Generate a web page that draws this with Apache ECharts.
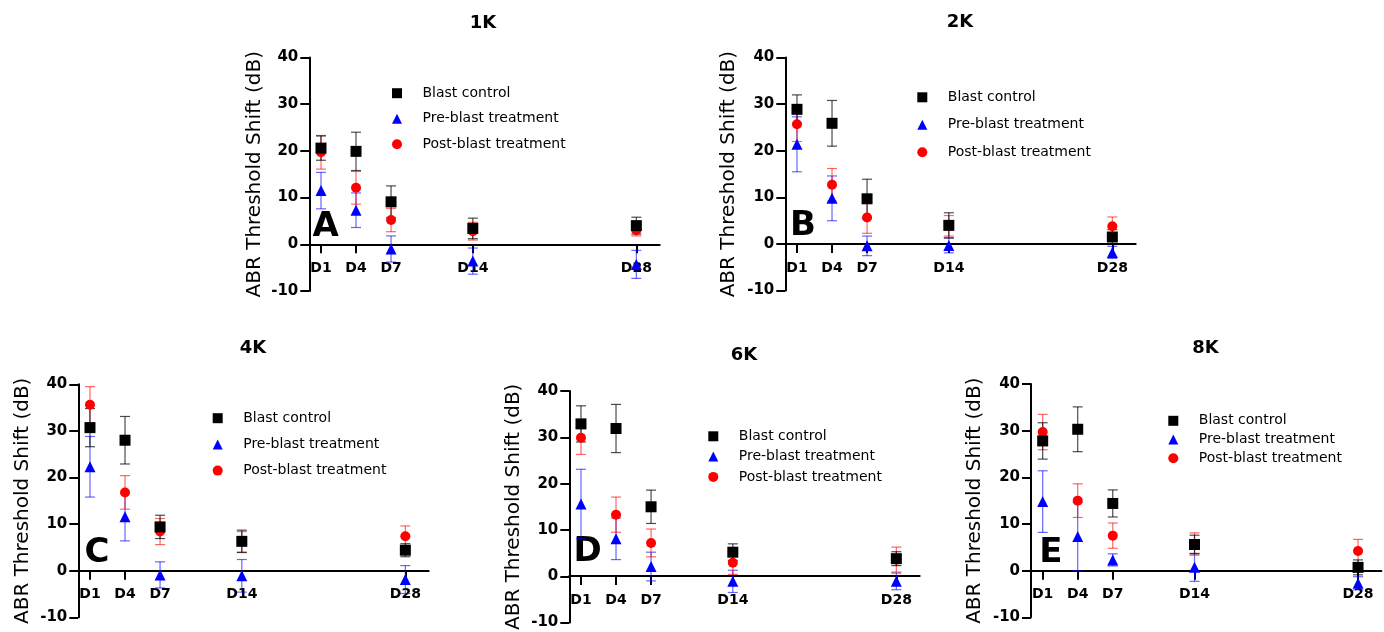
<!DOCTYPE html>
<html>
<head>
<meta charset="utf-8">
<script src="https://cdn.jsdelivr.net/npm/echarts@6/dist/echarts.min.js"></script>
<style>
    html, body { margin: 0; padding: 0; background: #fff; }
    #chart { width: 1384px; height: 632px; }
</style>
</head>
<body>
<div id="chart"></div>
<script>
    // days after blast (x positions)
    const days = [1, 4, 7, 14, 28];
    const panels = ['1K', '2K', '4K', '6K', '8K'];
    const letters = ['A', 'B', 'C', 'D', 'E'];
    const groups = ['Blast control', 'Pre-blast treatment', 'Post-blast treatment'];

    // 1K
    const blast1K = [20.6, 19.9, 9.1, 3.4, 4.0];
    const blast1KErr = [2.6, 4.1, 3.4, 2.2, 1.8];
    const pre1K = [11.5, 7.3, -1.0, -3.6, -4.3];
    const pre1KErr = [3.9, 3.7, 2.8, 2.8, 3.0];
    const post1K = [19.7, 12.1, 5.2, 2.8, 3.0];
    const post1KErr = [3.6, 3.5, 2.5, 1.9, 1.2];

    // 2K
    const blast2K = [28.9, 25.9, 9.7, 4.0, 1.5];
    const blast2KErr = [3.1, 4.9, 4.2, 2.7, 1.6];
    const pre2K = [21.4, 9.8, -0.4, -0.3, -1.8];
    const pre2KErr = [5.9, 4.8, 2.1, 1.6, 1.3];
    const post2K = [25.7, 12.7, 5.7, 3.9, 3.8];
    const post2KErr = [3.7, 3.5, 3.4, 2.2, 2.0];

    // 4K
    const blast4K = [30.7, 28.0, 9.4, 6.3, 4.4];
    const blast4KErr = [4.1, 5.1, 2.5, 2.4, 1.4];
    const pre4K = [22.3, 11.6, -0.9, -1.1, -1.9];
    const pre4KErr = [6.5, 5.2, 2.8, 3.5, 3.0];
    const post4K = [35.6, 16.8, 8.4, 6.2, 7.4];
    const post4KErr = [3.9, 3.6, 2.8, 2.2, 2.2];

    // 6K
    const blast6K = [32.9, 31.9, 15.0, 5.2, 3.8];
    const blast6KErr = [3.9, 5.2, 3.6, 1.8, 1.5];
    const pre6K = [15.6, 8.1, 2.1, -1.1, -1.1];
    const pre6KErr = [7.5, 4.5, 3.1, 2.4, 1.8];
    const post6K = [29.9, 13.3, 7.2, 2.9, 3.6];
    const post6KErr = [3.6, 3.8, 3.0, 2.5, 2.7];

    // 8K
    const blast8K = [27.8, 30.3, 14.4, 5.6, 0.7];
    const blast8KErr = [3.9, 4.8, 2.9, 2.0, 1.6];
    const pre8K = [14.8, 7.3, 2.3, 0.7, -2.7];
    const pre8KErr = [6.6, 7.3, 1.3, 3.0, 1.4];
    const post8K = [29.7, 15.0, 7.5, 5.7, 4.2];
    const post8KErr = [3.8, 3.6, 2.7, 2.4, 2.5];

    const means = [
        [blast1K, pre1K, post1K],
        [blast2K, pre2K, post2K],
        [blast4K, pre4K, post4K],
        [blast6K, pre6K, post6K],
        [blast8K, pre8K, post8K]
    ];
    const errs = [
        [blast1KErr, pre1KErr, post1KErr],
        [blast2KErr, pre2KErr, post2KErr],
        [blast4KErr, pre4KErr, post4KErr],
        [blast6KErr, pre6KErr, post6KErr],
        [blast8KErr, pre8KErr, post8KErr]
    ];

    // layout of the five panels (pixels)
    const grids = [
        {left: 309.3, top: 57.5, width: 350.4, height: 233.5},
        {left: 785.3, top: 57.6, width: 350.4, height: 233},
        {left: 78.3, top: 384.3, width: 350.4, height: 233},
        {left: 569.3, top: 391, width: 350.4, height: 233.3},
        {left: 1031, top: 384, width: 350.4, height: 233.3}
    ];
    const nameGaps = [45, 47, 46, 46, 46];
    const legendPos = [
        {left: 392, top: 86.2, gap: 11.5},
        {left: 917.3, top: 90.3, gap: 13.5},
        {left: 212.7, top: 411.2, gap: 12.2},
        {left: 708.3, top: 429.3, gap: 6.3},
        {left: 1168.3, top: 413.8, gap: 4.7}
    ];
    const titlePos = [[483, 23], [960, 22], [253, 348], [744, 355], [1205.5, 348]];
    const letterPos = [[325.7, 227], [803, 226.5], [97, 553.6], [587.5, 552.3], [1050.8, 553]];

    const colors = ['#000000', '#0000ff', '#ff0000'];
    const errColors = ['rgba(0,0,0,0.7)', 'rgba(0,0,255,0.6)', 'rgba(255,0,0,0.6)'];
    const symbols = ['rect', 'triangle', 'circle'];
    const symbolSizes = [11, 11, 10];
    const legendIcons = ['path://M0,0H10V10H0Z', 'path://M5,0L10,10H0Z', 'circle'];
    const FONT = 'DejaVu Sans';

    function renderErr(params, api) {
        const x = api.value(0), y = api.value(1), e = api.value(2);
        const top = api.coord([x, y + e]);
        const bot = api.coord([x, y - e]);
        const w = 5;
        const style = {stroke: api.visual('color'), lineWidth: 1.2, fill: null};
        return {
            type: 'group',
            children: [
                {type: 'line', shape: {x1: top[0], y1: top[1], x2: bot[0], y2: bot[1]}, style: style},
                {type: 'line', shape: {x1: top[0] - w, y1: top[1], x2: top[0] + w, y2: top[1]}, style: style},
                {type: 'line', shape: {x1: bot[0] - w, y1: bot[1], x2: bot[0] + w, y2: bot[1]}, style: style}
            ]
        };
    }

    const gridOpt = [], xAxes = [], yAxes = [], legends = [], graphics = [];
    const scatterSeries = [], errSeries = [];
    // draw order: blue, red, black on top
    const drawOrder = [1, 2, 0];

    panels.forEach(function (p, i) {
        gridOpt.push(grids[i]);
        // x axis sits at y = 0, i.e. one fifth of the height above the bottom (-10..40)
        xAxes.push({
            type: 'value', gridIndex: i, min: 0, max: 30,
            offset: -grids[i].height / 5,
            splitLine: {show: false},
            axisLine: {onZero: false, lineStyle: {color: '#000', width: 2}},
            axisTick: {customValues: days, length: 9, lineStyle: {color: '#000', width: 2}},
            axisLabel: {
                customValues: days, margin: 17,
                formatter: function (v) { return 'D' + v; },
                fontFamily: FONT, fontWeight: 'bold', fontSize: 14, color: '#000'
            }
        });
        yAxes.push({
            type: 'value', gridIndex: i, min: -10, max: 40, interval: 10,
            name: 'ABR Threshold Shift (dB)', nameLocation: 'middle', nameGap: nameGaps[i],
            nameTextStyle: {fontFamily: FONT, fontSize: 20, color: '#000'},
            splitLine: {show: false},
            axisLine: {show: true, onZero: false, lineStyle: {color: '#000', width: 2}},
            axisTick: {show: true, length: 9, lineStyle: {color: '#000', width: 2}},
            axisLabel: {margin: 11, fontFamily: FONT, fontWeight: 'bold', fontSize: 15, color: '#000'}
        });
        legends.push({
            left: legendPos[i].left, top: legendPos[i].top, orient: 'vertical',
            padding: 0, itemGap: legendPos[i].gap, itemWidth: 41, itemHeight: 10,
            textStyle: {fontFamily: FONT, fontSize: 14, color: '#000', lineHeight: 14},
            data: groups.map(function (g, k) { return {name: g, icon: legendIcons[k]}; })
        });
        graphics.push({
            type: 'text', x: titlePos[i][0], y: titlePos[i][1],
            style: {text: p, fontFamily: FONT, fontSize: 18, fontWeight: 'bold', fill: '#000', align: 'center', verticalAlign: 'middle'}
        });
        graphics.push({
            type: 'text', x: letterPos[i][0], y: letterPos[i][1],
            style: {text: letters[i], fontFamily: FONT, fontSize: 34, fontWeight: 'bold', fill: '#000', align: 'center', verticalAlign: 'middle'}
        });

        drawOrder.forEach(function (g) {
            scatterSeries.push({
                type: 'scatter', name: groups[g], xAxisIndex: i, yAxisIndex: i,
                symbol: symbols[g], symbolSize: symbolSizes[g], z: 4,
                itemStyle: {color: colors[g], opacity: 1},
                data: days.map(function (d, k) { return [d, means[i][g][k]]; })
            });
            errSeries.push({
                type: 'custom', name: groups[g], xAxisIndex: i, yAxisIndex: i, z: 3,
                itemStyle: {color: errColors[g]},
                encode: {x: 0, y: 1},
                renderItem: renderErr,
                data: days.map(function (d, k) { return [d, means[i][g][k], errs[i][g][k]]; })
            });
        });
    });

    const myChart = echarts.init(document.getElementById('chart'));
    myChart.setOption({
        animation: false,
        backgroundColor: '#fff',
        grid: gridOpt,
        xAxis: xAxes,
        yAxis: yAxes,
        legend: legends,
        graphic: graphics,
        series: scatterSeries.concat(errSeries)
    });
</script>
</body>
</html>
